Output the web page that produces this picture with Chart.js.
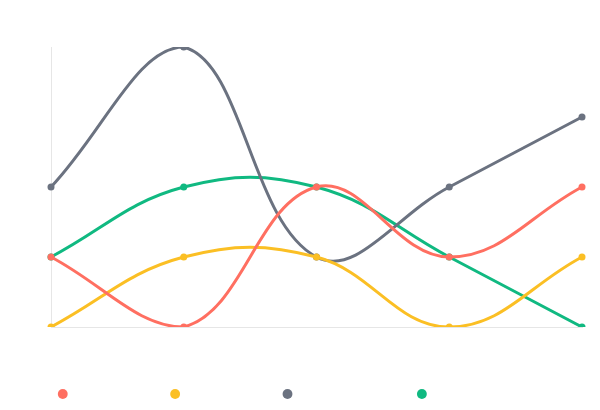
<!DOCTYPE html>
<html>
<head>
<meta charset="utf-8">
<script src="https://cdn.jsdelivr.net/npm/chart.js@4/dist/chart.umd.min.js"></script>
<style>
html,body{margin:0;padding:0;background:#fff;}
#wrap{width:600px;height:410px;position:relative;}
</style>
</head>
<body>
<div id="wrap"><canvas id="c"></canvas></div>
<script>
const categories = ["Jan", "Feb", "Mar", "Apr", "May"];
const seriesNames = ["Region A Orders", "Region B Orders", "Partner Store Orders", "Overseas Orders"];
const seriesRed = [1, 0, 2, 1, 2];
const seriesYellow = [0, 1, 1, 0, 1];
const seriesGray = [2, 4, 1, 2, 3];
const seriesGreen = [1, 2, 2, 1, 0];
const colors = ["#ff6f61", "#fbbf24", "#6b7280", "#10b981"];

const allSeries = [seriesRed, seriesYellow, seriesGray, seriesGreen];

new Chart(document.getElementById('c'), {
  type: 'line',
  data: {
    labels: categories,
    datasets: allSeries.map((d, i) => ({
      label: seriesNames[i],
      data: d,
      borderColor: colors[i],
      backgroundColor: colors[i],
      pointBackgroundColor: colors[i],
      pointBorderColor: colors[i],
      borderWidth: 3,
      pointRadius: 3.5,
      pointBorderWidth: 0,
      tension: 0.4,
      fill: false
    }))
  },
  options: {
    responsive: true,
    maintainAspectRatio: false,
    animation: false,
    layout: { padding: { top: 47, right: 18, left: 0, bottom: 0 } },
    plugins: {
      legend: {
        position: 'bottom',
        labels: {
          usePointStyle: true,
          pointStyle: 'circle',
          boxWidth: 7,
          boxHeight: 7,
          color: 'rgba(0,0,0,0)',
          font: { size: 12 }
        }
      },
      tooltip: { enabled: false }
    },
    scales: {
      x: {
        grid: { display: false },
        border: { display: true, color: '#e6e6e6', width: 1 },
        ticks: { display: false },
        afterFit: (s) => { s.height = 51; }
      },
      y: {
        min: 0,
        max: 4,
        grid: { display: false },
        border: { display: true, color: '#e6e6e6', width: 1 },
        ticks: { display: false },
        afterFit: (s) => { s.width = 51; }
      }
    }
  }
});
</script>
</body>
</html>
